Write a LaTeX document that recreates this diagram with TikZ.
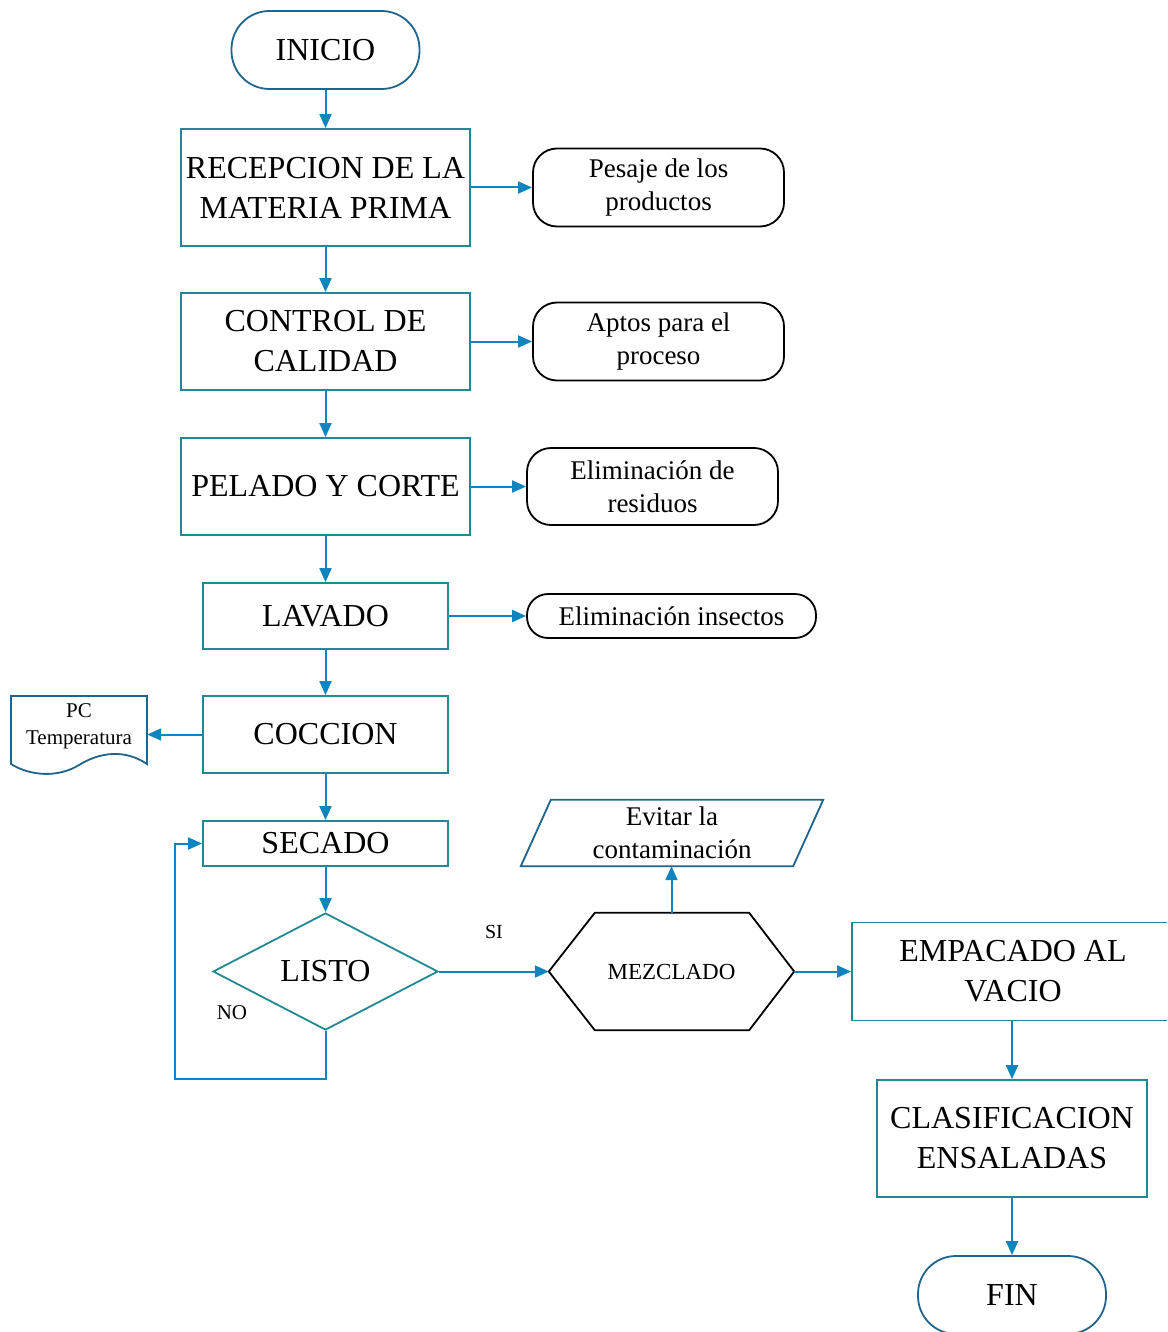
\documentclass[tikz,border=0pt]{standalone}
\usepackage{fontspec}
\setmainfont{Liberation Serif}
\usepackage{tikz}
\usetikzlibrary{arrows.meta,shapes.geometric}
\definecolor{boxteal}{RGB}{33,137,148}
\definecolor{arrblue}{RGB}{16,132,190}
\definecolor{termblue}{RGB}{30,100,140}

\begin{document}
\begin{tikzpicture}[
  x=1pt,y=-1pt,
  big/.style={font=\fontsize{32}{40}\selectfont},
  small/.style={font=\fontsize{27}{33}\selectfont},
  proc/.style={rectangle,draw=boxteal,line width=1.8pt,align=center,inner sep=0pt,big},
  term/.style={rectangle,draw=termblue,line width=1.8pt,rounded corners=38pt,minimum width=188pt,minimum height=78pt,inner sep=0pt,big},
  note/.style={rectangle,draw=black,line width=1.8pt,rounded corners=24pt,align=center,inner sep=0pt,small},
  plain/.style={align=center,inner sep=0pt},
  arr/.style={draw=arrblue,line width=2pt,-{Triangle[length=14pt,width=12pt]}},
  outl/.style={line width=1.8pt,line join=miter}
]
\useasboundingbox (0,0) rectangle (1167,1332);
\clip (0,0) rectangle (1167,1332);

\node[term] (inicio) at (325.5,50) {INICIO};
\node[proc,minimum width=289pt,minimum height=117pt] (recep) at (325.5,187.5) {RECEPCION DE LA\\MATERIA PRIMA};
\node[proc,minimum width=289pt,minimum height=97pt] (control) at (325.5,341.5) {CONTROL DE\\CALIDAD};
\node[proc,minimum width=289pt,minimum height=97pt] (pelado) at (325.5,486.5) {PELADO Y CORTE};
\node[proc,minimum width=245pt,minimum height=66pt] (lavado) at (325.5,616) {LAVADO};
\node[proc,minimum width=245pt,minimum height=77pt] (coccion) at (325.5,734.5) {COCCION};
\node[proc,minimum width=245pt,minimum height=45pt] (secado) at (325.5,843.5) {SECADO};
\node[diamond,draw=boxteal,line width=1.8pt,aspect=2,inner sep=0pt,minimum width=225pt,minimum height=117pt,big] (listo) at (325.5,971.5) {LISTO};

\node[note,minimum width=251pt,minimum height=78pt] (pesaje) at (658.5,187.5) {Pesaje de los\\productos};
\node[note,minimum width=251pt,minimum height=78pt] (aptos) at (658.5,341.5) {Aptos para el\\proceso};
\node[note,minimum width=251pt,minimum height=77pt] (residuos) at (652.5,486.5) {Eliminación de\\residuos};
\node[note,rounded corners=21pt,minimum width=289pt,minimum height=44pt] (insectos) at (671.5,616) {Eliminación insectos};

\node[plain,font=\fontsize{21}{27}\selectfont,minimum width=136pt] (pc) at (79,726) {PC\\Temperatura};
\draw[outl,draw=termblue] (11,696) -- (147,696) -- (147,764) .. controls (125,749) and (100,752) .. (79,765) .. controls (58,778) and (30,776) .. (11,764) -- cycle;

\node[plain,font=\fontsize{23}{28}\selectfont,minimum width=245pt,minimum height=117pt] (mez) at (671.5,971.5) {MEZCLADO};
\draw[outl] (mez.west) -- ([xshift=46pt]mez.north west) -- ([xshift=-45pt]mez.north east) -- (mez.east) -- ([xshift=-45pt]mez.south east) -- ([xshift=46pt]mez.south west) -- cycle;

\node[plain,small,minimum width=272pt,minimum height=66pt] (evitar) at (672,833) {Evitar la\\contaminación};
\draw[outl,draw=termblue] ([xshift=15pt]evitar.north west) -- ([xshift=15pt]evitar.north east) -- ([xshift=-15pt]evitar.south east) -- ([xshift=-15pt]evitar.south west) -- cycle;

\node[proc,minimum width=322pt,minimum height=98pt] (empacado) at (1013,971.5) {EMPACADO AL\\VACIO};
\node[proc,minimum width=270pt,minimum height=117pt] (clasif) at (1012,1138.5) {CLASIFICACION\\ENSALADAS};
\node[term] (fin) at (1012,1295) {FIN};

\node[font=\fontsize{20}{24}\selectfont] (si) at (494,932) {SI};
\node[font=\fontsize{21}{24}\selectfont] (no) at (232,1013) {NO};
\coordinate (lp) at (175,1079);

\draw[arr] (inicio) -- (recep);
\draw[arr] (recep) -- (control);
\draw[arr] (control) -- (pelado);
\draw[arr] (pelado) -- (lavado);
\draw[arr] (lavado) -- (coccion);
\draw[arr] (coccion) -- (secado);
\draw[arr] (secado) -- (listo);
\draw[arr] (recep.east) -- (pesaje.west);
\draw[arr] (control.east) -- (aptos.west);
\draw[arr] (pelado.east) -- (residuos.west);
\draw[arr] (lavado.east) -- (insectos.west);
\draw[arr] (coccion.west) -- (coccion.west -| pc.east);
\draw[arr] (listo.south) |- (lp) |- (secado.west);
\draw[arr] (listo.east) -- (mez.west);
\draw[arr] (mez.north) -- (mez.north |- evitar.south);
\draw[arr] (mez.east) -- (empacado.west);
\draw[arr] (empacado.south -| clasif.north) -- (clasif.north);
\draw[arr] (clasif) -- (fin);
\end{tikzpicture}
\end{document}
